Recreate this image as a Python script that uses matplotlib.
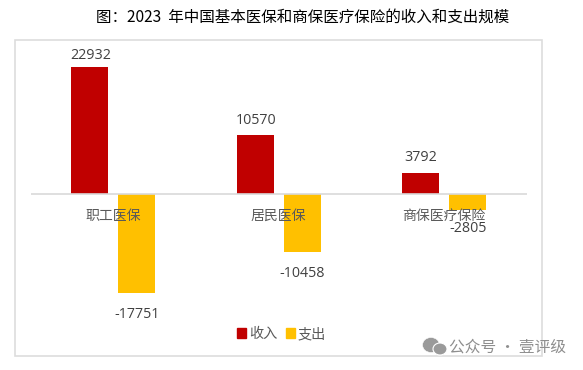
import matplotlib
matplotlib.use('Agg')
import matplotlib.pyplot as plt
from matplotlib.patches import Rectangle, Ellipse
import numpy as np

plt.rcParams['font.family'] = ['Noto Sans CJK SC', 'DejaVu Sans']

categories = ['职工医保', '居民医保', '商保医疗保险']
income = [22932, 10570, 3792]
expense = [-17751, -10458, -2805]
series_names = ['收入', '支出']
title = '图：2023  年中国基本医保和商保医疗保险的收入和支出规模'
watermark = '公众号 · 壹评级'

W, H = 583, 370
fig = plt.figure(figsize=(W/100, H/100), dpi=100, facecolor='white')
RED, YEL = '#C00000', '#FFC000'

def X(p): return p/W
def Y(p): return 1-p/H

# page overlay in pixel coordinates
page = fig.add_axes([0, 0, 1, 1], zorder=0)
page.set_xlim(0, W); page.set_ylim(H, 0); page.axis('off')
page.add_patch(Rectangle((15, 40), 527, 316, fc='white', ec='#DDDDDD', lw=1.2))

# plot area
top, bot = 47, 340
zero = 194
scale = 0.00555
ax = fig.add_axes([X(31), Y(bot), X(496), (bot-top)/H], zorder=1)
ax.patch.set_alpha(0)
ax.set_xlim(-0.5, 2.5)
ax.set_ylim(-(bot-zero)/scale, (zero-top)/scale)
x = np.arange(3)
bw, off = 0.224, 0.141
ax.bar(x-off-0.003, income, bw, color=RED, zorder=2)
ax.bar(x+off, expense, bw, color=YEL, zorder=2)
ax.axhline(0, color='#D9D9D9', lw=1.2, zorder=3)
for s in ax.spines.values():
    s.set_visible(False)
ax.set_xticks([]); ax.set_yticks([])

numfont = ['Open Sans', 'Noto Sans CJK SC']
inc_gap = [3.0, 5.5, 5.5]
exp_gap = [-10.3, -10.3, -8.2]
for i, v in enumerate(income):
    ax.annotate(str(v), (i-off, v), xytext=(0, inc_gap[i]), textcoords='offset points',
                ha='center', va='bottom', fontsize=10.3, color='#404040',
                family=numfont, zorder=5)
for i, v in enumerate(expense):
    ax.annotate(str(v), (i+off, v), xytext=(0, exp_gap[i]), textcoords='offset points',
                ha='center', va='top', fontsize=10.3, color='#404040',
                family=numfont, zorder=5)
for i, c in enumerate(categories):
    ax.annotate(c, (i, 0), xytext=(-0.5, -10.5), textcoords='offset points',
                ha='center', va='top', fontsize=10, color='#595959', zorder=4)

# legend
handles = [Rectangle((0, 0), 1, 1, color=RED), Rectangle((0, 0), 1, 1, color=YEL)]
fig.legend(handles, series_names, loc='center', bbox_to_anchor=(X(281.5), Y(334)), ncol=2,
           frameon=False, fontsize=10.2, labelcolor='#595959', handlelength=0.65, handleheight=0.65,
           handletextpad=0.2, columnspacing=0.6, borderpad=0)

fig.text(X(96), Y(17), title, ha='left', va='center', fontsize=11.2, color='black')

# watermark
over = fig.add_axes([0, 0, 1, 1], zorder=6)
over.set_xlim(0, W); over.set_ylim(H, 0); over.axis('off'); over.patch.set_alpha(0)
over.add_patch(Ellipse((431, 345), 17, 15, fc='#9A9A9A', ec='white', lw=0.4))
over.add_patch(Ellipse((440, 349), 14, 12, fc='#9A9A9A', ec='white', lw=0.8))
over.text(449, 347, watermark, ha='left', va='center', fontsize=11.3, color='#8E8E8E')

fig.savefig('out.png', dpi=100)
